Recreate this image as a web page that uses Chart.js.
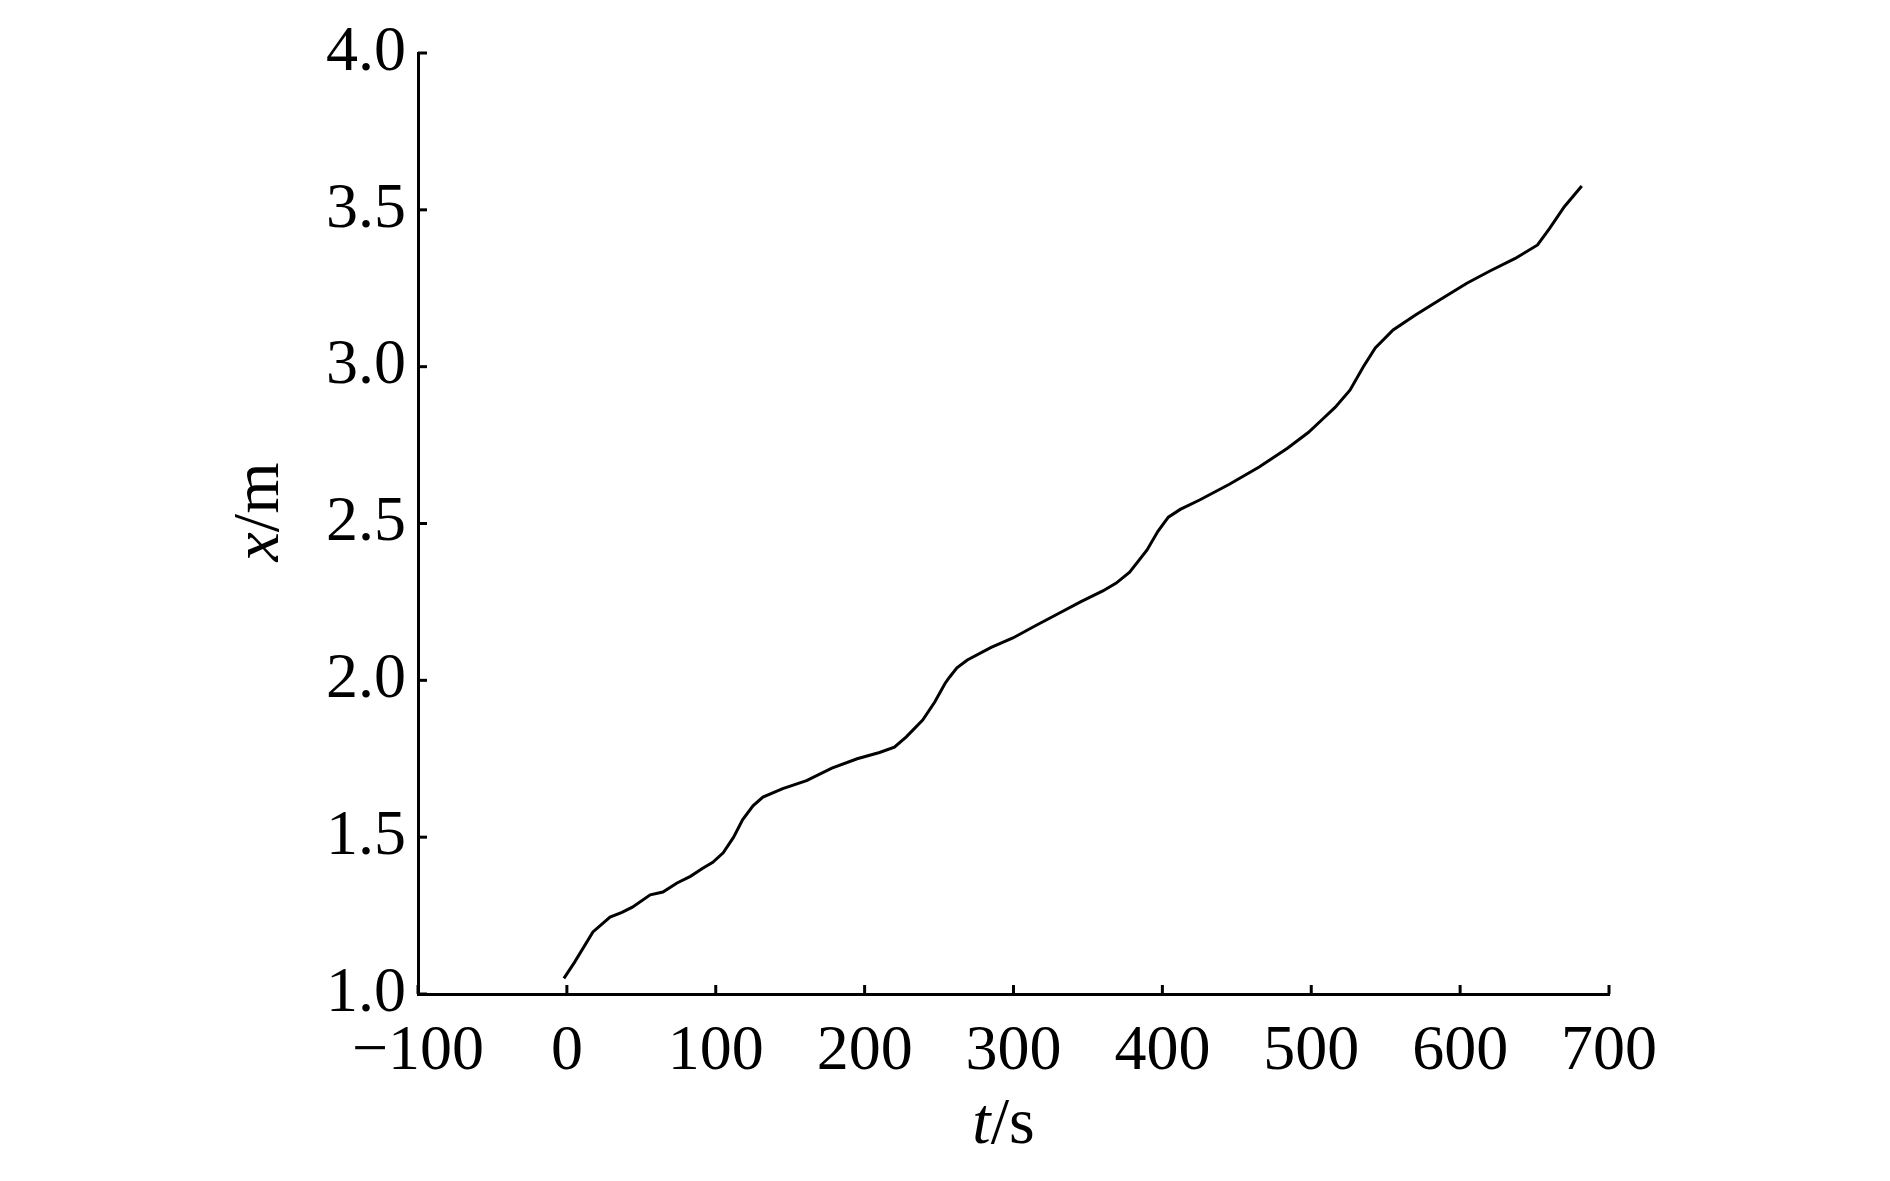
<!DOCTYPE html>
<html>
<head>
<meta charset="utf-8">
<script src="https://cdn.jsdelivr.net/npm/chart.js@4.4.1/dist/chart.umd.min.js"></script>
<style>
html,body{margin:0;padding:0;background:#fff;}
#wrap{width:1890px;height:1181px;}
</style>
</head>
<body>
<div id="wrap"><canvas id="c" width="1890" height="1181"></canvas></div>
<script>
// Data (t in s, x in m)
const timeValues = [-2, 5, 17.5, 29, 37, 44, 56, 64.5, 74, 83, 91, 98, 105, 112, 118, 125, 131.7, 145, 161, 178, 195, 210, 220, 228, 239, 247, 254, 257, 262, 269, 285, 299.6, 315, 329, 345, 360, 369, 378, 389.6, 397, 404, 412, 425, 445, 465, 484, 498, 507, 516, 526, 535, 543, 555, 570, 587, 604.5, 620, 637, 652, 660, 670, 681.7];
const positionValues = [1.05, 1.10, 1.198, 1.245, 1.26, 1.277, 1.316, 1.325, 1.354, 1.375, 1.40, 1.42, 1.45, 1.50, 1.555, 1.60, 1.628, 1.655, 1.68, 1.72, 1.75, 1.77, 1.787, 1.82, 1.873, 1.93, 1.99, 2.01, 2.04, 2.065, 2.105, 2.135, 2.175, 2.21, 2.25, 2.285, 2.31, 2.345, 2.415, 2.475, 2.52, 2.545, 2.575, 2.625, 2.68, 2.74, 2.79, 2.83, 2.87, 2.925, 3.00, 3.06, 3.117, 3.165, 3.215, 3.266, 3.305, 3.345, 3.388, 3.44, 3.51, 3.576];
const xTickValues = [-100, 0, 100, 200, 300, 400, 500, 600, 700];
const yTickValues = [1.0, 1.5, 2.0, 2.5, 3.0, 3.5, 4.0];
const xTitleParts = [["t", true], ["/s", false]];
const yTitleParts = [["x", true], ["/m", false]];

const points = timeValues.map((t, i) => ({x: t, y: positionValues[i]}));
const FONT = '"Liberation Serif", "Times New Roman", serif';

const inwardTicks = {
  id: 'inwardTicks',
  afterDraw(chart) {
    const ctx = chart.ctx;
    const xs = chart.scales.x, ys = chart.scales.y;
    const len = 9;
    ctx.save();
    ctx.strokeStyle = '#000';
    ctx.lineWidth = 3;
    ctx.lineCap = 'butt';
    xTickValues.forEach(v => {
      const px = xs.getPixelForValue(v);
      ctx.beginPath();
      ctx.moveTo(px, ys.bottom);
      ctx.lineTo(px, ys.bottom - len);
      ctx.stroke();
    });
    yTickValues.forEach(v => {
      const py = ys.getPixelForValue(v);
      ctx.beginPath();
      ctx.moveTo(xs.left, py);
      ctx.lineTo(xs.left + len, py);
      ctx.stroke();
    });
    // axis titles with italic variable
    const drawParts = (parts, size) => {
      let total = 0;
      parts.forEach(([s, it]) => { ctx.font = (it ? 'italic ' : '') + size + 'px ' + FONT; total += ctx.measureText(s).width; });
      let x = -total / 2;
      parts.forEach(([s, it]) => {
        ctx.font = (it ? 'italic ' : '') + size + 'px ' + FONT;
        ctx.fillText(s, x, 0);
        x += ctx.measureText(s).width;
      });
    };
    ctx.fillStyle = '#000';
    ctx.textBaseline = 'alphabetic';
    ctx.textAlign = 'left';
    ctx.save();
    ctx.translate((xs.left + xs.right) / 2 - 10, 1143);
    drawParts(xTitleParts, 66);
    ctx.restore();
    ctx.save();
    ctx.translate(278, 512);
    ctx.rotate(-Math.PI / 2);
    drawParts(yTitleParts, 66);
    ctx.restore();
    ctx.restore();
  }
};

new Chart(document.getElementById('c'), {
  type: 'line',
  data: {
    datasets: [{
      data: points,
      borderColor: '#000',
      borderWidth: 3,
      pointRadius: 0,
      tension: 0,
      fill: false
    }]
  },
  options: {
    responsive: false,
    animation: false,
    devicePixelRatio: 1,
    layout: { padding: { left: 0, right: 281, top: 53, bottom: 0 } },
    plugins: { legend: { display: false }, tooltip: { enabled: false } },
    scales: {
      x: {
        type: 'linear',
        min: -100, max: 700,
        afterFit(s) { s.height = 187; },
        afterBuildTicks(s) { s.ticks = xTickValues.map(v => ({value: v})); },
        grid: { display: false, drawTicks: false },
        border: { display: true, color: '#000', width: 3 },
        ticks: {
          color: '#000',
          font: { family: FONT, size: 64 },
          padding: 20,
          maxRotation: 0,
          autoSkip: false,
          callback: v => (v < 0 ? '\u2212' + Math.abs(v) : String(v))
        }
      },
      y: {
        type: 'linear',
        min: 1.0, max: 4.0,
        afterFit(s) { s.width = 418; },
        afterBuildTicks(s) { s.ticks = yTickValues.map(v => ({value: v})); },
        grid: { display: false, drawTicks: false },
        border: { display: true, color: '#000', width: 3 },
        ticks: {
          color: '#000',
          font: { family: FONT, size: 64 },
          padding: 12,
          autoSkip: false,
          callback: v => Number(v).toFixed(1)
        }
      }
    }
  },
  plugins: [inwardTicks]
});
</script>
</body>
</html>
